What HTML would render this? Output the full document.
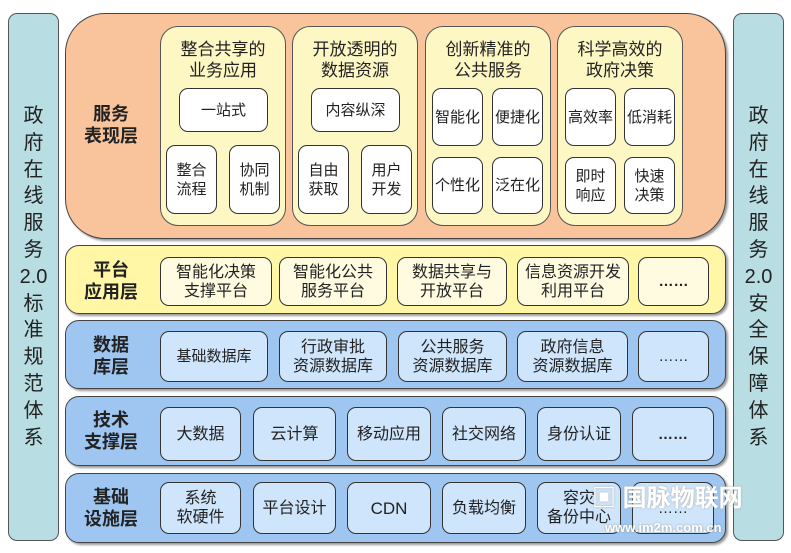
<!DOCTYPE html><html><head><meta charset="utf-8"><style>
body{margin:0;width:791px;height:553px;background:#fff;position:relative;overflow:hidden;font-family:"Liberation Sans","Noto Sans CJK SC",sans-serif;color:#222}
div{position:absolute;box-sizing:border-box}
.side{background:#b8dde2;border:1px solid #555;border-radius:9px;width:51px;top:13px;height:528px;font-size:20px;line-height:26.8px;text-align:center;padding-top:89px}
.lay{left:65px;width:661px;border:1px solid #444;border-radius:14px;box-shadow:2px 2px 2px #999}
.lbl{font-weight:bold;font-size:18px;line-height:22px;text-align:center;width:90px;left:66px;display:flex;align-items:center;justify-content:center}
.b{border:1px solid #333;border-radius:9px;display:flex;align-items:center;justify-content:center;text-align:center;font-size:15px;line-height:19px}
.pan{background:#fdf7c4;border:1px solid #555;border-radius:18px;top:26px;height:200px;width:126px;text-align:center;font-size:17px;line-height:21px;padding-top:12px}
.w{background:#fff}
.y{background:#fffbe0}
.bl{background:#cfe5fb}
</style></head><body>
<div class="side" style="left:8px">政<br>府<br>在<br>线<br>服<br>务<br>2.0<br>标<br>准<br>规<br>范<br>体<br>系</div>
<div class="side" style="left:733px">政<br>府<br>在<br>线<br>服<br>务<br>2.0<br>安<br>全<br>保<br>障<br>体<br>系</div>

<div class="lay" style="top:13px;height:226px;background:#f9c49b;border-radius:40px"></div>
<div class="lbl" style="top:100px;height:50px">服务<br>表现层</div>
<div class="pan" style="left:160px">整合共享的<br>业务应用</div>
<div class="pan" style="left:292px">开放透明的<br>数据资源</div>
<div class="pan" style="left:425px">创新精准的<br>公共服务</div>
<div class="pan" style="left:557px">科学高效的<br>政府决策</div>
<div class="b w" style="left:179px;top:88px;width:89px;height:44px">一站式</div>
<div class="b w" style="left:166px;top:145px;width:51px;height:69px">整合<br>流程</div>
<div class="b w" style="left:229px;top:145px;width:51px;height:69px">协同<br>机制</div>
<div class="b w" style="left:311px;top:88px;width:89px;height:44px">内容纵深</div>
<div class="b w" style="left:298px;top:145px;width:51px;height:69px">自由<br>获取</div>
<div class="b w" style="left:361px;top:145px;width:51px;height:69px">用户<br>开发</div>
<div class="b w" style="left:432px;top:88px;width:51px;height:58px">智能化</div>
<div class="b w" style="left:492px;top:88px;width:51px;height:58px">便捷化</div>
<div class="b w" style="left:432px;top:157px;width:51px;height:57px">个性化</div>
<div class="b w" style="left:492px;top:157px;width:51px;height:57px">泛在化</div>
<div class="b w" style="left:565px;top:88px;width:51px;height:58px">高效率</div>
<div class="b w" style="left:624px;top:88px;width:51px;height:58px">低消耗</div>
<div class="b w" style="left:565px;top:157px;width:51px;height:57px">即时<br>响应</div>
<div class="b w" style="left:624px;top:157px;width:51px;height:57px">快速<br>决策</div>

<div class="lay" style="top:245px;height:69px;background:#fff7a6"></div>
<div class="lbl" style="top:258px;height:46px">平台<br>应用层</div>
<div class="b y" style="left:160px;top:257px;width:112px;height:49px;font-size:16px">智能化决策<br>支撑平台</div>
<div class="b y" style="left:279px;top:257px;width:108px;height:49px;font-size:16px">智能化公共<br>服务平台</div>
<div class="b y" style="left:397px;top:257px;width:110px;height:49px;font-size:16px">数据共享与<br>开放平台</div>
<div class="b y" style="left:517px;top:257px;width:112px;height:49px;font-size:16px">信息资源开发<br>利用平台</div>
<div class="b y" style="left:638px;top:257px;width:71px;height:49px;font-weight:bold">……</div>

<div class="lay" style="top:320px;height:69px;background:#9ec6f0"></div>
<div class="lbl" style="top:333px;height:46px">数据<br>库层</div>
<div class="b bl" style="left:160px;top:331px;width:108px;height:51px">基础数据库</div>
<div class="b bl" style="left:279px;top:331px;width:108px;height:51px;font-size:16px">行政审批<br>资源数据库</div>
<div class="b bl" style="left:398px;top:331px;width:109px;height:51px;font-size:16px">公共服务<br>资源数据库</div>
<div class="b bl" style="left:517px;top:331px;width:111px;height:51px;font-size:16px">政府信息<br>资源数据库</div>
<div class="b bl" style="left:638px;top:331px;width:71px;height:51px">……</div>

<div class="lay" style="top:396px;height:70px;background:#9ec6f0"></div>
<div class="lbl" style="top:408px;height:46px">技术<br>支撑层</div>
<div class="b bl" style="left:160px;top:407px;width:81px;height:54px;font-size:16px">大数据</div>
<div class="b bl" style="left:253px;top:407px;width:83px;height:54px;font-size:16px">云计算</div>
<div class="b bl" style="left:347px;top:407px;width:84px;height:54px;font-size:16px">移动应用</div>
<div class="b bl" style="left:442px;top:407px;width:84px;height:54px;font-size:16px">社交网络</div>
<div class="b bl" style="left:537px;top:407px;width:84px;height:54px;font-size:16px">身份认证</div>
<div class="b bl" style="left:632px;top:407px;width:82px;height:54px;font-weight:bold">……</div>

<div class="lay" style="top:473px;height:70px;background:#9ec6f0"></div>
<div class="lbl" style="top:485px;height:46px">基础<br>设施层</div>
<div class="b bl" style="left:160px;top:482px;width:81px;height:52px;font-size:16px">系统<br>软硬件</div>
<div class="b bl" style="left:253px;top:482px;width:83px;height:52px;font-size:16px">平台设计</div>
<div class="b bl" style="left:347px;top:482px;width:84px;height:52px;font-size:17px">CDN</div>
<div class="b bl" style="left:442px;top:482px;width:84px;height:52px;font-size:16px">负载均衡</div>
<div class="b bl" style="left:537px;top:482px;width:84px;height:52px;font-size:16px">容灾<br>备份中心</div>
<div class="b bl" style="left:632px;top:482px;width:82px;height:52px">……</div>
<div style="left:592px;top:484px;font-size:24px;font-weight:bold;color:#fff;line-height:30px;text-shadow:0 0 2px #aaa">▣ 国脉物联网</div>
<div style="left:605px;top:520px;font-size:13px;font-weight:bold;color:#fff;text-shadow:0 0 2px #999">www.im2m.com.cn</div>
</body></html>
